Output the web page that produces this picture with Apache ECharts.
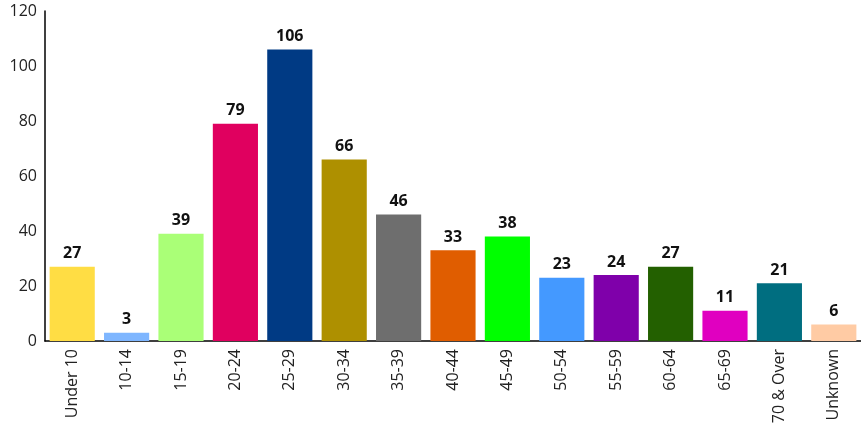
<!DOCTYPE html>
<html>
<head>
<meta charset="utf-8">
<script src="https://cdn.jsdelivr.net/npm/echarts@6/dist/echarts.min.js"></script>
<style>
  html, body { margin: 0; padding: 0; background: #fff; }
  #main { width: 861px; height: 434px; }
</style>
</head>
<body>
<div id="main"></div>
<script>
// age groups and counts
const categories = ['Under 10', '10-14', '15-19', '20-24', '25-29', '30-34', '35-39', '40-44', '45-49', '50-54', '55-59', '60-64', '65-69', '70 & Over', 'Unknown'];
const counts = [27, 3, 39, 79, 106, 66, 46, 33, 38, 23, 24, 27, 11, 21, 6];
const barColors = ['#FFDD44', '#7EB6FF', '#AAFF77', '#E0005F', '#003A84', '#AE9000', '#6E6E6E', '#E05D00', '#00FF00', '#4499FF', '#7F00AA', '#236000', '#E000C0', '#006E80', '#FFCBA4'];
const yTicks = [0, 20, 40, 60, 80, 100, 120];

const font = 'Open Sans';
var myChart = echarts.init(document.getElementById('main'));
myChart.setOption({
  animation: false,
  grid: { left: 45, width: 819, top: 11, bottom: 93, containLabel: false },
  xAxis: {
    type: 'category',
    data: categories,
    axisLine: { lineStyle: { color: '#000', width: 1.5 } },
    axisTick: { show: false },
    axisLabel: { rotate: 90, interval: 0, color: '#222', fontFamily: font, fontSize: 16, margin: 8 }
  },
  yAxis: {
    type: 'value',
    min: yTicks[0],
    max: yTicks[yTicks.length - 1],
    interval: 20,
    axisLine: { show: true, lineStyle: { color: '#000', width: 1.5 } },
    axisTick: { show: false },
    splitLine: { show: false },
    axisLabel: { color: '#222', fontFamily: font, fontSize: 16, margin: 8 }
  },
  series: [{
    type: 'bar',
    barCategoryGap: '17%',
    data: counts.map((v, i) => ({ value: v, itemStyle: { color: barColors[i] } })),
    label: { show: true, position: 'top', distance: 5, color: '#111', fontFamily: font, fontWeight: 'bold', fontSize: 16 }
  }]
});
</script>
</body>
</html>
